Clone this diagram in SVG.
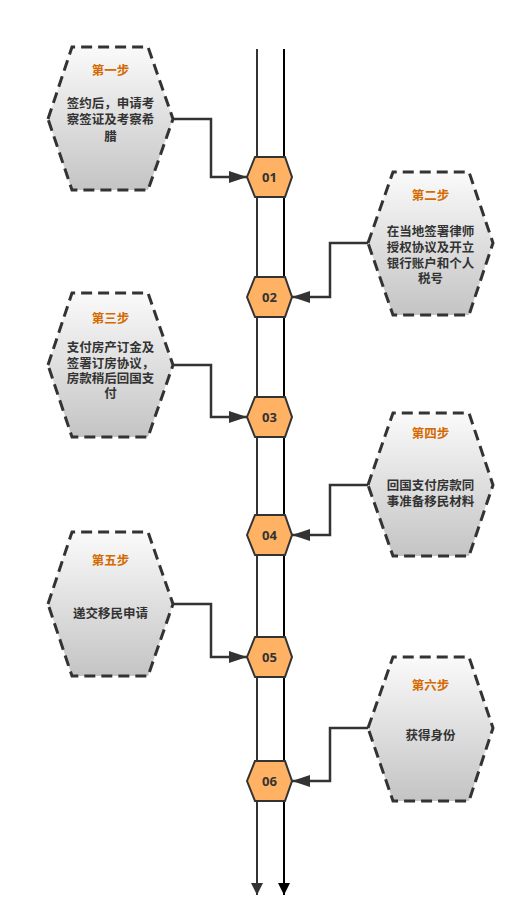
<svg xmlns="http://www.w3.org/2000/svg" width="527" height="924" viewBox="0 0 527 924">
<defs>
<linearGradient id="g" x1="0" y1="0" x2="0" y2="1">
<stop offset="0" stop-color="#fafafa"/>
<stop offset="1" stop-color="#c4c4c4"/>
</linearGradient>
<marker id="ah" viewBox="0 0 18 12" refX="18" refY="6" markerWidth="18" markerHeight="12" markerUnits="userSpaceOnUse" orient="auto">
<path d="M0,0 L18,6 L0,12 Z" fill="#333"/>
</marker>
<marker id="ahd" viewBox="0 0 12 16" refX="12" refY="6" markerWidth="12" markerHeight="16" markerUnits="userSpaceOnUse" orient="auto">
<path d="M0,0 L12,6 L0,12 Z" fill="#333"/>
</marker>
<marker id="ahb" viewBox="0 0 12 16" refX="12" refY="6" markerWidth="12" markerHeight="16" markerUnits="userSpaceOnUse" orient="auto">
<path d="M0,0 L12,6 L0,12 Z" fill="#000"/>
</marker>
</defs>
<style>
.big{fill:url(#g);stroke:#333;stroke-width:3;stroke-dasharray:11,6;}
.num{fill:#FFB264;stroke:#333;stroke-width:2;}
.title{font-family:"Noto Sans CJK SC","Liberation Sans",sans-serif;font-size:12.5px;font-weight:bold;fill:#D46A00;text-anchor:middle;}
.body{font-family:"Noto Sans CJK SC","Liberation Sans",sans-serif;font-size:12.5px;font-weight:bold;fill:#333;text-anchor:middle;}
.nt{font-family:"Open Sans","Liberation Sans",sans-serif;font-size:13px;font-weight:bold;fill:#333;text-anchor:middle;}
.conn{fill:none;stroke:#333;stroke-width:2.5;}
</style>
<rect width="527" height="924" fill="#fff"/>
<g id="spine">
<line x1="257" y1="49" x2="257" y2="895" stroke="#333" stroke-width="2" marker-end="url(#ahd)"/>
<line x1="284" y1="49" x2="284" y2="895" stroke="#000" stroke-width="2" marker-end="url(#ahb)"/>
</g>
<g id="connectors">
<path class="conn" d="M173,119 H211 V177 H247" marker-end="url(#ah)"/>
<path class="conn" d="M368,243 H330 V297 H292" marker-end="url(#ah)"/>
<path class="conn" d="M173,365 H211 V417 H247" marker-end="url(#ah)"/>
<path class="conn" d="M368,485 H330 V535 H292" marker-end="url(#ah)"/>
<path class="conn" d="M173,604 H211 V657 H247" marker-end="url(#ah)"/>
<path class="conn" d="M368,728 H330 V781 H292" marker-end="url(#ah)"/>
</g>
<g id="n01"><polygon class="num" points="247,177 255,157 285,157 292,177 285,197 255,197"/><text class="nt" x="269.5" y="182">01</text></g>
<g id="n02"><polygon class="num" points="247,297 255,277 285,277 292,297 285,317 255,317"/><text class="nt" x="269.5" y="302">02</text></g>
<g id="n03"><polygon class="num" points="247,417 255,397 285,397 292,417 285,437 255,437"/><text class="nt" x="269.5" y="422">03</text></g>
<g id="n04"><polygon class="num" points="247,535 255,515 285,515 292,535 285,555 255,555"/><text class="nt" x="269.5" y="540">04</text></g>
<g id="n05"><polygon class="num" points="247,657 255,637 285,637 292,657 285,677 255,677"/><text class="nt" x="269.5" y="662">05</text></g>
<g id="n06"><polygon class="num" points="247,781 255,761 285,761 292,781 285,801 255,801"/><text class="nt" x="269.5" y="786">06</text></g>
<g id="step1">
<polygon class="big" points="48,119 72,47 148,47 173,119 148,190 72,190"/>
<text class="title" x="110.5" y="74.5">第一步</text>
<text class="body" x="110.5" y="107.5">签约后，申请考</text>
<text class="body" x="110.5" y="124">察签证及考察希</text>
<text class="body" x="110.5" y="140.5">腊</text>
</g>
<g id="step2">
<polygon class="big" points="368,243 393,172 469,172 493,243 469,315 393,315"/>
<text class="title" x="430.5" y="199.5">第二步</text>
<text class="body" x="430.5" y="235.5">在当地签署律师</text>
<text class="body" x="430.5" y="251.5">授权协议及开立</text>
<text class="body" x="430.5" y="267.5">银行账户和个人</text>
<text class="body" x="430.5" y="283">税号</text>
</g>
<g id="step3">
<polygon class="big" points="48,365 72,293 148,293 173,365 148,437 72,437"/>
<text class="title" x="110.5" y="322.5">第三步</text>
<text class="body" x="110.5" y="351.5">支付房产订金及</text>
<text class="body" x="110.5" y="367.5">签署订房协议，</text>
<text class="body" x="110.5" y="383">房款稍后回国支</text>
<text class="body" x="110.5" y="398">付</text>
</g>
<g id="step4">
<polygon class="big" points="368,485 393,413 469,413 493,485 469,556 393,556"/>
<text class="title" x="430.5" y="437.5">第四步</text>
<text class="body" x="430.5" y="489.5">回国支付房款同</text>
<text class="body" x="430.5" y="506">事准备移民材料</text>
</g>
<g id="step5">
<polygon class="big" points="48,604 72,532 148,532 173,604 148,676 72,676"/>
<text class="title" x="110.5" y="564.5">第五步</text>
<text class="body" x="110.5" y="617.5">递交移民申请</text>
</g>
<g id="step6">
<polygon class="big" points="368,728 393,657 469,657 493,728 469,801 393,801"/>
<text class="title" x="430.5" y="689.5">第六步</text>
<text class="body" x="430.5" y="739.5">获得身份</text>
</g>
</svg>
